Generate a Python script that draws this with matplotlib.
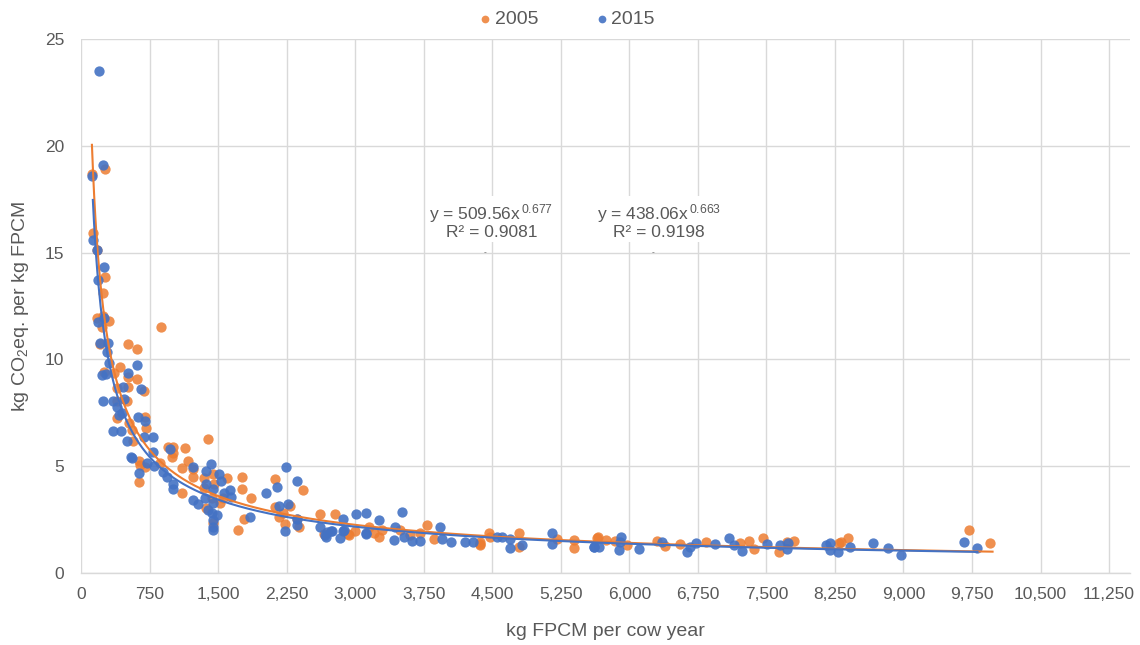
import numpy as np
import matplotlib
matplotlib.use("Agg")
import matplotlib.pyplot as plt
from matplotlib.ticker import FuncFormatter, MultipleLocator

plt.rcParams['font.family'] = ['Liberation Sans', 'DejaVu Sans']
plt.rcParams['mathtext.fontset'] = 'custom'
plt.rcParams['mathtext.rm'] = 'Liberation Sans'
plt.rcParams['mathtext.it'] = 'Liberation Sans'

# 2005 series (kg FPCM per cow year, kg CO2eq per kg FPCM)
x2005 = [117, 263, 128, 179, 266, 237, 179, 237, 310, 226, 872, 208, 511, 617, 427, 361, 511, 617,
         693, 391, 511, 255, 391, 500, 398, 701, 712, 529, 555, 573, 635, 646, 701, 635, 865, 956,
         1001, 1139, 1011, 993, 1394, 1175, 1226, 1102, 1110, 1347, 1226, 1449, 1457, 1595, 1760,
         1340, 1369, 1431, 1449, 1522, 1551, 1760, 1862, 1778, 1716, 2124, 2117, 2289, 2434, 2161,
         2205, 2234, 2380, 2362, 2610, 2654, 2781, 2917, 2993, 3146, 3256, 3292, 3493, 3602, 3785,
         3858, 4362, 2928, 3201, 3704, 4369, 4369, 4460, 4478, 4789, 4789, 5209, 5398, 5398, 5647,
         5654, 5749, 5847, 5975, 6303, 6395, 6559, 6844, 7216, 7307, 7362, 7465, 7636, 7727, 7800,
         8293, 8318, 8395, 9717, 9946]
y2005 = [18.7, 18.9, 15.9, 15.1, 13.86, 13.1, 11.95, 12.05, 11.8, 11.5, 11.53, 10.7, 10.72, 10.49,
         9.63, 9.38, 9.17, 9.07, 8.52, 8.65, 8.7, 9.4, 8.05, 8.05, 7.24, 7.29, 6.8, 7.04, 6.7, 6.2,
         5.24, 5.05, 4.95, 4.27, 5.13, 5.88, 5.88, 5.84, 5.63, 5.42, 6.26, 5.26, 4.88, 4.9, 3.73,
         4.43, 4.48, 4.63, 4.17, 4.43, 4.51, 4.0, 3.03, 3.5, 2.33, 3.3, 3.5, 3.92, 3.53, 2.51, 2.01,
         4.4, 3.1, 3.14, 3.89, 2.64, 2.82, 2.28, 2.14, 2.55, 2.76, 1.83, 2.76, 1.83, 1.98, 2.14, 1.7,
         2.0, 2.0, 1.78, 2.25, 1.6, 1.3, 1.78, 1.86, 1.86, 1.47, 1.34, 1.86, 1.7, 1.86, 1.2, 1.58,
         1.54, 1.16, 1.65, 1.7, 1.54, 1.51, 1.33, 1.51, 1.26, 1.34, 1.47, 1.39, 1.51, 1.11, 1.62,
         1.0, 1.47, 1.51, 1.39, 1.47, 1.62, 2.01, 1.42]

# 2015 series
x2015 = [197, 117, 244, 135, 179, 248, 190, 190, 256, 208, 292, 281, 617, 233, 277, 511, 653, 463,
         307, 244, 354, 471, 398, 420, 446, 628, 701, 354, 438, 792, 690, 500, 548, 555, 792, 726,
         635, 800, 975, 1230, 902, 945, 1011, 1011, 1369, 1420, 1369, 1508, 1530, 1442, 1223, 1285,
         1358, 1394, 1431, 1449, 1449, 1449, 1449, 1486, 1566, 1632, 1639, 1851, 2022, 2143, 2168,
         2245, 2362, 2234, 2263, 2362, 2362, 2617, 2680, 2734, 2866, 2873, 2829, 3011, 3121, 3121,
         3263, 3431, 3420, 3511, 3530, 3620, 3712, 3931, 3949, 4051, 4205, 4289, 2672, 2690, 2745,
         2866, 3121, 4551, 4609, 4698, 4690, 4826, 5154, 5154, 5610, 5610, 5665, 5910, 5903, 5884,
         6103, 6358, 6632, 6669, 6734, 6942, 7088, 7143, 7234, 7502, 7654, 7727, 7738, 8147, 8194,
         8201, 8282, 8413, 8665, 8833, 8976, 9662, 9808]
y2015 = [23.5, 18.6, 19.1, 15.6, 15.1, 14.35, 13.7, 11.74, 11.92, 10.78, 10.75, 10.36, 9.74, 9.27,
         9.3, 9.35, 8.6, 8.72, 9.82, 8.07, 8.07, 8.13, 7.76, 7.4, 7.48, 7.29, 7.13, 6.65, 6.65, 6.38,
         6.35, 6.2, 5.45, 5.4, 5.68, 5.16, 4.7, 5.0, 5.8, 4.98, 4.75, 4.48, 4.17, 3.95, 4.79, 5.1,
         4.17, 4.63, 4.32, 3.92, 3.42, 3.23, 3.5, 2.95, 2.82, 3.3, 2.48, 2.17, 2.0, 2.71, 3.73, 3.89,
         3.57, 2.64, 3.76, 4.04, 3.15, 4.98, 4.32, 1.97, 3.25, 2.51, 2.25, 2.17, 1.7, 1.98, 2.53, 2.0,
         1.62, 2.76, 2.79, 1.83, 2.48, 2.17, 1.54, 2.87, 1.7, 1.5, 1.51, 2.14, 1.6, 1.44, 1.44, 1.44,
         1.78, 1.9, 1.98, 1.98, 1.86, 1.7, 1.7, 1.16, 1.58, 1.31, 1.86, 1.36, 1.2, 1.23, 1.23, 1.7,
         1.47, 1.08, 1.11, 1.47, 1.0, 1.23, 1.39, 1.36, 1.62, 1.31, 1.03, 1.36, 1.31, 1.11, 1.39,
         1.31, 1.42, 1.08, 1.0, 1.23, 1.42, 1.18, 0.84, 1.47, 1.18]

# power trendlines as reported on the chart: y = a * x^-b
fit2005 = {"a": 509.56, "b": 0.677, "r2": 0.9081, "xrange": (119, 9975)}
fit2015 = {"a": 438.06, "b": 0.663, "r2": 0.9198, "xrange": (129, 9810)}

orange = "#ED7D31"
blue = "#4472C4"
grey = "#595959"

fig = plt.figure(figsize=(11.4, 6.45), dpi=100)
ax = fig.add_axes([0.0711, 0.1116, 0.9202, 0.8279])

ax.scatter(x2005, y2005, s=55, color=orange, alpha=0.85, linewidths=0, zorder=3, label="2005")
ax.scatter(x2015, y2015, s=55, color=blue, alpha=0.9, linewidths=0, zorder=4, label="2015")

for fit, c in [(fit2005, orange), (fit2015, blue)]:
    xs = np.linspace(fit["xrange"][0], fit["xrange"][1], 800)
    ax.plot(xs, fit["a"] * xs ** (-fit["b"]), color=c, lw=1.5, zorder=5)

ax.set_xlim(0, 11480)
ax.set_ylim(0, 25)
ax.xaxis.set_major_locator(MultipleLocator(750))
ax.yaxis.set_major_locator(MultipleLocator(5))
ax.xaxis.set_major_formatter(FuncFormatter(lambda v, p: "{:,.0f}".format(v)))
ax.grid(True, color="#D9D9D9", lw=1.0, zorder=0)
ax.set_axisbelow(True)
for s in ["top", "right", "left"]:
    ax.spines[s].set_visible(False)
ax.spines["bottom"].set_color("#D9D9D9")
ax.spines["bottom"].set_linewidth(1.0)
ax.tick_params(length=0, labelsize=12.5, labelcolor=grey)
ax.tick_params(axis="x", pad=10)
ax.tick_params(axis="y", pad=12)

ax.set_xlabel("kg FPCM per cow year", fontsize=14, color=grey, labelpad=15)
ax.set_ylabel(r"kg CO$_2$eq. per kg FPCM", fontsize=14, color=grey, labelpad=10)

# trendline labels
box = dict(facecolor="white", edgecolor="none", pad=2)
ax.text(4490, 16.5, r"y = 509.56x$^{\,0.677}$" + "\nR² = 0.9081", ha="center", va="center",
        fontsize=12.5, color=grey, linespacing=1.0, bbox=box, zorder=6)
ax.text(6320, 16.5, r"y = 438.06x$^{\,0.663}$" + "\nR² = 0.9198", ha="center", va="center",
        fontsize=12.5, color=grey, linespacing=1.0, bbox=box, zorder=6)
ax.text(4420, 15.0, "-", ha="center", va="center", fontsize=6, color=grey, zorder=6)
ax.text(6260, 15.0, "-", ha="center", va="center", fontsize=6, color=grey, zorder=6)

fig.legend(loc="center", bbox_to_anchor=(0.498, 0.97), ncol=2, frameon=False, fontsize=14,
           labelcolor=grey, handlelength=0.5, handletextpad=0.25, columnspacing=3.0,
           markerscale=0.75)

fig.savefig("out.png", dpi=100)
